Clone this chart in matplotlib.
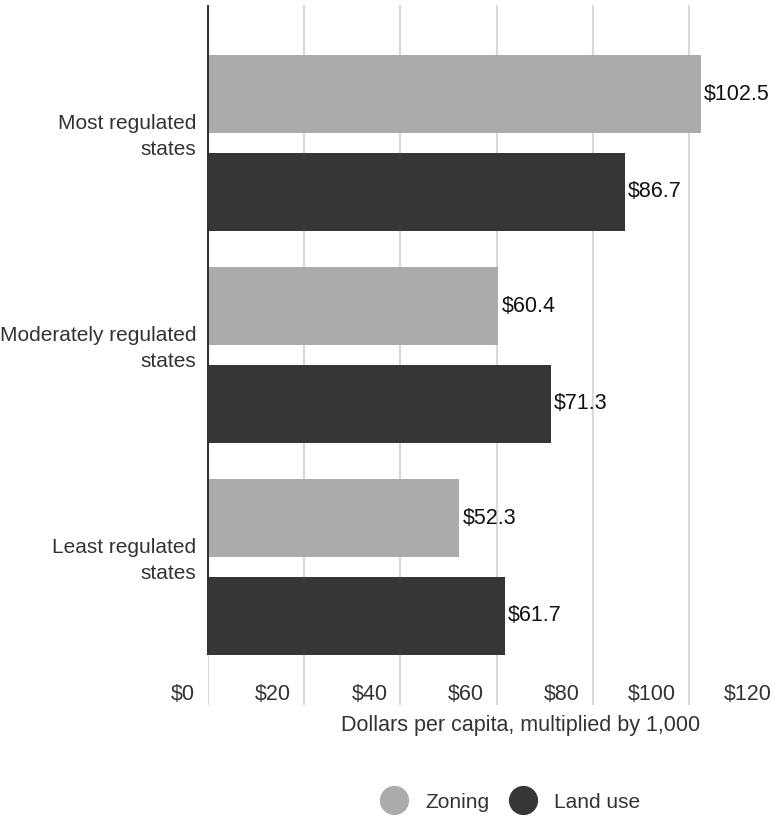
import numpy as np
import matplotlib
matplotlib.use('Agg')
import matplotlib.pyplot as plt
from matplotlib.lines import Line2D
from matplotlib.transforms import ScaledTranslation

# Data
groups = ['Most regulated\nstates', 'Moderately regulated\nstates', 'Least regulated\nstates']
zoning = [102.5, 60.4, 52.3]
land_use = [86.7, 71.3, 61.7]
series_names = ['Zoning', 'Land use']
x_ticks = [0, 20, 40, 60, 80, 100, 120]

ZONING_COLOR = '#ababab'
LAND_COLOR = '#363636'
TEXT_COLOR = '#333333'

plt.rcParams['font.family'] = ['Liberation Sans', 'DejaVu Sans']
plt.rcParams['font.size'] = 15

W, H = 774, 819
fig = plt.figure(figsize=(W / 100, H / 100), dpi=100)
# axes spans a bit beyond the right edge, like the original
ax = fig.add_axes([208 / W, 1 - 705 / H, 577 / W, 700 / H])

pos = np.arange(len(groups))
bar_h = 0.368
off = 0.231

ax.barh(pos - off, zoning, height=bar_h, color=ZONING_COLOR, zorder=3)
ax.barh(pos + off, land_use, height=bar_h, color=LAND_COLOR, zorder=3)

# value labels
for p, z, l in zip(pos, zoning, land_use):
    ax.annotate(f'${z}', (z, p - off), xytext=(3, 0), textcoords='offset pixels',
                va='center', ha='left', color='#111111', fontsize=15.5)
    ax.annotate(f'${l}', (l, p + off), xytext=(3, 0), textcoords='offset pixels',
                va='center', ha='left', color='#111111', fontsize=15.5)

ax.set_xlim(0, 120)
ax.set_ylim(2.651, -0.651)

ax.set_xticks(x_ticks)
ax.grid(axis='x', color='#d9d9d9', linewidth=1.5, zorder=0)
ax.tick_params(axis='x', length=0, labelbottom=False)

# x tick labels sit inside the axes, right-aligned next to the gridlines
for t in x_ticks:
    ax.annotate(f'${t}', (t, 0.015), xycoords=ax.get_xaxis_transform(),
                xytext=(-13, 0), textcoords='offset pixels',
                ha='right', va='center', color=TEXT_COLOR, fontsize=15.5)

ax.set_yticks(pos, groups, color=TEXT_COLOR, linespacing=1.45)
ax.tick_params(axis='y', length=0, pad=8.6)
# group labels sit a little above the group centre
shift = ScaledTranslation(0, 12 / 100, fig.dpi_scale_trans)
for lab in ax.get_yticklabels():
    lab.set_transform(lab.get_transform() + shift)

for s in ax.spines.values():
    s.set_visible(False)

# dark left line only alongside the bars
bars_bottom = pos[-1] + off + bar_h / 2
ax.plot([0, 0], [ax.get_ylim()[1], bars_bottom], color='#333333', linewidth=1.5,
        zorder=4, solid_capstyle='butt', clip_on=False)

fig.text(521 / W, 1 - 726 / H, 'Dollars per capita, multiplied by 1,000',
         ha='center', va='center', color=TEXT_COLOR, fontsize=15.5)

handles = [Line2D([], [], marker='o', linestyle='none', markersize=20,
                  markerfacecolor=c, markeredgecolor=c)
           for c in (ZONING_COLOR, LAND_COLOR)]
leg = fig.legend(handles, series_names, loc='center', ncol=2,
                 bbox_to_anchor=(510 / W, 1 - 802 / H), frameon=False,
                 handlelength=1.4, handletextpad=0.8, columnspacing=0.9,
                 borderpad=0, fontsize=15)
for t in leg.get_texts():
    t.set_color(TEXT_COLOR)

fig.savefig('out.png', dpi=100)
